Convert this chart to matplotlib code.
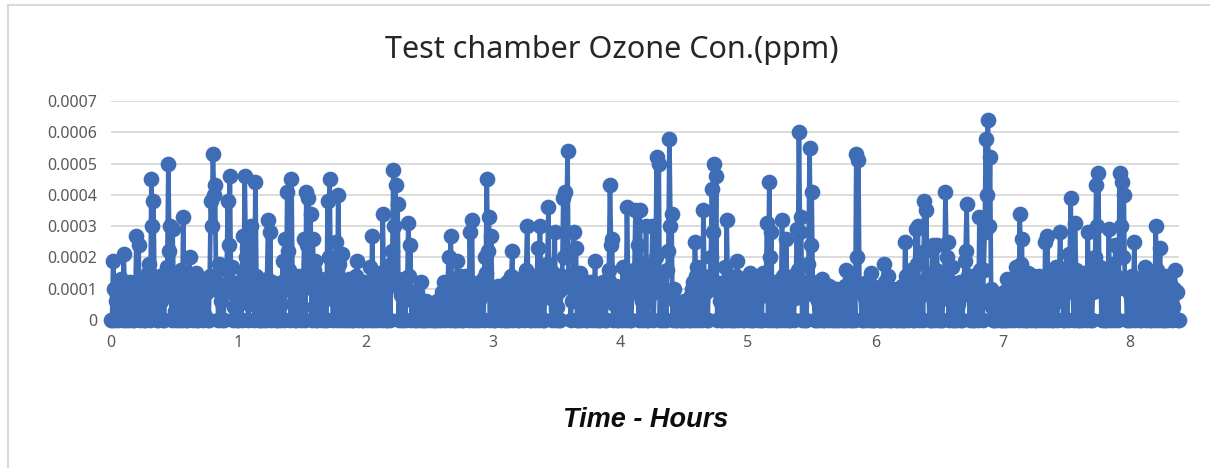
import numpy as np
import matplotlib
matplotlib.use("Agg")
import matplotlib.pyplot as plt
from matplotlib.lines import Line2D

# Ozone concentration, one reading every 30 s, in units of 1e-5 ppm
ozone_1e5 = [
    0, 0, 19, 10, 0, 6, 8, 0, 11, 13, 3, 0, 21, 9, 0, 5, 9, 0, 12, 7,
    5, 0, 0, 9, 27, 12, 24, 0, 6, 11, 10, 0, 0, 8, 8, 15, 18, 0, 45, 30,
    38, 10, 4, 0, 0, 12, 14, 6, 7, 0, 0, 10, 9, 17, 50, 22, 30, 0, 29, 11,
    3, 0, 12, 8, 0, 14, 16, 0, 33, 9, 8, 0, 0, 11, 20, 6, 6, 0, 11, 13,
    15, 0, 0, 7, 10, 12, 7, 0, 2, 9, 9, 0, 0, 14, 38, 30, 53, 40, 43, 10,
    12, 0, 18, 9, 6, 0, 0, 11, 10, 16, 38, 24, 46, 12, 17, 0, 4, 8, 9, 0,
    0, 12, 8, 0, 27, 15, 46, 20, 23, 0, 5, 10, 30, 8, 12, 0, 44, 14, 9, 0,
    0, 9, 6, 0, 11, 7, 0, 13, 32, 10, 28, 0, 12, 8, 3, 0, 0, 11, 7, 0,
    5, 12, 19, 0, 26, 10, 41, 22, 16, 0, 45, 12, 10, 0, 0, 9, 8, 14, 12, 0,
    4, 10, 26, 0, 41, 24, 39, 12, 34, 0, 26, 16, 19, 0, 0, 8, 9, 12, 13, 0,
    6, 11, 0, 0, 38, 20, 45, 9, 11, 0, 7, 13, 25, 0, 40, 18, 9, 0, 21, 10,
    0, 7, 6, 0, 13, 10, 3, 0, 0, 9, 8, 14, 19, 0, 5, 8, 0, 0, 10, 12,
    4, 0, 11, 8, 17, 0, 27, 12, 0, 6, 8, 0, 12, 15, 5, 0, 34, 10, 9, 0,
    0, 11, 14, 0, 18, 22, 48, 30, 43, 12, 37, 0, 10, 8, 0, 13, 12, 0, 7, 10,
    31, 14, 24, 0, 6, 9, 0, 0, 9, 7, 3, 0, 12, 5, 0, 0, 4, 6, 0, 3,
    5, 0, 2, 4, 0, 0, 3, 6, 0, 2, 6, 0, 9, 8, 12, 0, 4, 10, 20, 0,
    27, 12, 8, 0, 0, 9, 19, 0, 11, 14, 5, 0, 0, 10, 14, 7, 9, 0, 28, 12,
    32, 0, 6, 10, 0, 8, 11, 0, 7, 12, 13, 0, 20, 15, 45, 22, 33, 0, 27, 10,
    9, 0, 0, 8, 6, 11, 3, 0, 11, 9, 8, 0, 0, 12, 5, 0, 10, 14, 22, 0,
    7, 10, 13, 0, 0, 9, 9, 12, 4, 0, 12, 16, 30, 10, 8, 0, 0, 11, 14, 0,
    6, 12, 23, 0, 30, 14, 9, 0, 0, 10, 11, 18, 36, 9, 7, 0, 15, 12, 28, 0,
    4, 9, 0, 0, 10, 14, 39, 20, 41, 28, 54, 12, 12, 0, 6, 10, 28, 15, 23, 0,
    0, 8, 15, 0, 8, 11, 3, 0, 0, 7, 6, 12, 9, 0, 12, 8, 19, 0, 4, 10,
    0, 0, 10, 12, 7, 0, 0, 9, 13, 16, 43, 24, 26, 0, 5, 10, 11, 0, 0, 8,
    8, 0, 17, 10, 4, 0, 36, 14, 12, 0, 0, 9, 9, 16, 35, 12, 24, 0, 35, 18,
    6, 0, 18, 11, 30, 0, 0, 9, 11, 14, 30, 0, 9, 20, 52, 14, 50, 0, 14, 9,
    0, 10, 8, 0, 16, 22, 58, 30, 34, 0, 10, 6, 0, 0, 5, 3, 2, 0, 0, 4,
    6, 0, 3, 5, 0, 0, 8, 10, 12, 0, 25, 14, 17, 0, 4, 9, 10, 0, 35, 12,
    9, 0, 0, 11, 14, 20, 42, 28, 50, 12, 46, 0, 11, 9, 6, 0, 0, 12, 17, 0,
    32, 10, 8, 0, 12, 9, 0, 0, 9, 14, 19, 0, 5, 11, 13, 0, 0, 8, 8, 12,
    11, 0, 15, 9, 0, 0, 9, 12, 6, 0, 12, 10, 0, 0, 15, 8, 8, 14, 31, 0,
    44, 20, 28, 0, 10, 12, 0, 0, 7, 11, 12, 0, 32, 14, 5, 0, 26, 10, 9, 0,
    0, 12, 14, 0, 7, 10, 29, 16, 60, 28, 33, 0, 10, 9, 0, 0, 12, 18, 55, 24,
    41, 12, 8, 0, 0, 9, 6, 0, 10, 12, 13, 0, 0, 7, 7, 0, 11, 9, 8, 0,
    3, 0, 9, 10, 0, 0, 5, 8, 8, 0, 0, 11, 16, 0, 6, 9, 10, 0, 0, 12,
    13, 0, 53, 20, 51, 10, 9, 0, 0, 8, 7, 0, 12, 10, 4, 0, 15, 11, 0, 0,
    8, 10, 5, 0, 0, 9, 11, 0, 18, 12, 6, 0, 14, 8, 0, 0, 4, 10, 9, 0,
    0, 7, 3, 0, 7, 11, 0, 0, 25, 14, 10, 0, 6, 12, 16, 0, 0, 10, 29, 18,
    30, 0, 12, 10, 8, 0, 38, 22, 35, 12, 9, 0, 0, 11, 24, 0, 14, 16, 24, 0,
    6, 9, 0, 0, 11, 14, 41, 20, 25, 0, 8, 12, 17, 0, 0, 9, 10, 0, 5, 11,
    12, 0, 0, 8, 19, 22, 37, 14, 9, 0, 14, 10, 0, 0, 6, 12, 11, 0, 33, 16,
    7, 0, 16, 28, 58, 40, 64, 30, 52, 10, 4, 0, 0, 2, 3, 0, 8, 5, 0, 0,
    6, 9, 0, 0, 13, 8, 9, 0, 4, 11, 11, 0, 17, 12, 8, 0, 34, 18, 26, 0,
    10, 12, 0, 0, 15, 9, 6, 0, 12, 14, 0, 0, 9, 11, 14, 0, 5, 10, 11, 0,
    25, 14, 27, 0, 8, 10, 0, 0, 12, 9, 17, 0, 6, 12, 28, 14, 10, 0, 0, 9,
    14, 0, 21, 18, 39, 12, 9, 0, 31, 16, 12, 0, 0, 10, 8, 0, 15, 12, 6, 0,
    28, 14, 11, 0, 0, 9, 16, 20, 43, 30, 47, 12, 17, 0, 9, 10, 0, 0, 13, 11,
    29, 0, 7, 12, 18, 0, 24, 14, 10, 0, 47, 30, 44, 20, 40, 12, 12, 0, 0, 9,
    9, 0, 14, 11, 25, 0, 6, 12, 11, 0, 0, 8, 8, 14, 17, 0, 5, 10, 10, 0,
    0, 12, 12, 0, 30, 16, 9, 0, 23, 11, 6, 0, 0, 9, 14, 0, 8, 12, 11, 0,
    4, 10, 16, 9, 9, 0, 0,
]
half_minutes = np.arange(len(ozone_1e5))
hours = half_minutes / 120.0
ozone_ppm = np.array(ozone_1e5) * 1e-5

y_ticks = [0, 0.0001, 0.0002, 0.0003, 0.0004, 0.0005, 0.0006, 0.0007]
y_labels = ["0", "0.0001", "0.0002", "0.0003", "0.0004", "0.0005", "0.0006", "0.0007"]
x_ticks = [0, 1, 2, 3, 4, 5, 6, 7, 8]

title = "Test chamber Ozone Con.(ppm)"
xlabel = "Time - Hours"

W, H = 1210, 468
fig = plt.figure(figsize=(W / 100, H / 100), dpi=100)
fig.patch.set_facecolor("white")

ax = fig.add_axes([111 / W, 1 - 320 / H, (1179 - 111) / W, (320 - 101) / H])

blue = "#3f6db5"
ax.plot(hours, ozone_ppm, color=blue, lw=3.4, marker="o", ms=10.3,
        markerfacecolor=blue, markeredgecolor=blue, clip_on=False, zorder=3,
        solid_joinstyle="round")

ax.set_xlim(0, hours[-1])
ax.set_ylim(0, 0.0007)
ax.set_yticks(y_ticks)
ax.set_yticklabels(y_labels)
ax.set_xticks(x_ticks)
ax.set_xticklabels([str(t) for t in x_ticks])

ax.grid(axis="y", color="#d9d9d9", lw=1.3, zorder=0)
ax.set_axisbelow(True)
for s in ax.spines.values():
    s.set_visible(False)
ax.tick_params(axis="both", length=0, labelsize=11.5, labelcolor="#595959")
ax.tick_params(axis="x", pad=11)
ax.tick_params(axis="y", pad=10)
for lab in ax.get_xticklabels() + ax.get_yticklabels():
    lab.set_fontfamily("Noto Sans")

fig.text(611.5 / W, 1 - 50 / H, title, ha="center", va="center",
         fontsize=22, color="#262626", family="Noto Sans")
fig.text(646 / W, 1 - 420 / H, xlabel, ha="center", va="center",
         fontsize=19.5, color="#0d0d0d", family="Liberation Sans",
         fontweight="bold", fontstyle="italic")

# chart-area border
fig.add_artist(Line2D([8 / W, 8 / W], [0, 1 - 5 / H], transform=fig.transFigure,
                      color="#d9d9d9", lw=1.5))
fig.add_artist(Line2D([8 / W, 1], [1 - 5 / H, 1 - 5 / H], transform=fig.transFigure,
                      color="#d9d9d9", lw=1.5))

fig.savefig("out.png", dpi=100)
